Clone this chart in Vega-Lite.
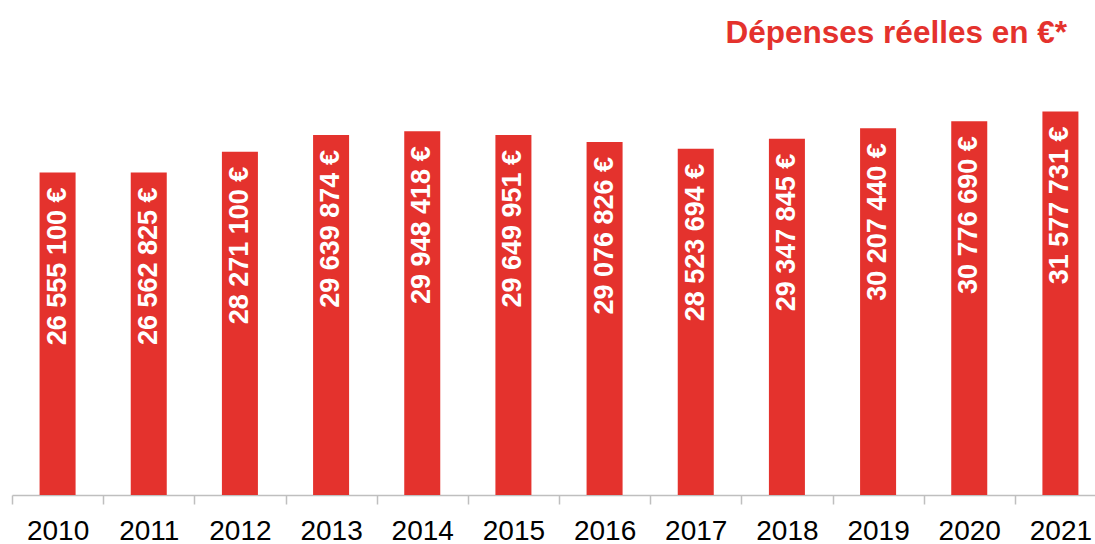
{
  "$schema": "https://vega.github.io/schema/vega-lite/v6.json",
  "autosize": {"type": "none"},
  "width": 1083,
  "height": 425,
  "padding": {"left": 12, "top": 70, "right": 0, "bottom": 49},
  "background": "white",
  "config": {
    "view": {"stroke": null},
    "font": "Liberation Sans",
    "locale": {"number": {"decimal": ",", "thousands": " ", "grouping": [3], "currency": ["", " €"]}}
  },
  "title": {
    "text": "Dépenses réelles en €*",
    "anchor": "end",
    "orient": "top",
    "baseline": "alphabetic",
    "offset": 29,
    "dy": 33,
    "dx": -39,
    "font": "Liberation Sans",
    "fontSize": 31.5,
    "fontWeight": "bold",
    "color": "#E4322D"
  },
  "data": {
    "values": [
      {"year": "2010", "value": 26555100},
      {"year": "2011", "value": 26562825},
      {"year": "2012", "value": 28271100},
      {"year": "2013", "value": 29639874},
      {"year": "2014", "value": 29948418},
      {"year": "2015", "value": 29649951},
      {"year": "2016", "value": 29076826},
      {"year": "2017", "value": 28523694},
      {"year": "2018", "value": 29347845},
      {"year": "2019", "value": 30207440},
      {"year": "2020", "value": 30776690},
      {"year": "2021", "value": 31577731}
    ]
  },
  "encoding": {
    "x": {
      "field": "year",
      "type": "nominal",
      "sort": null,
      "scale": {"range": [0, 1094], "paddingInner": 0.605, "paddingOuter": 0.3025},
      "axis": {
        "title": null,
        "labelAngle": 0,
        "labelFont": "Liberation Sans",
        "labelFontSize": 28,
        "labelColor": "#000000",
        "labelPadding": 13,
        "tickOffset": -45.58,
        "labelOffset": 45.58,
        "tickSize": 9,
        "tickColor": "#BFBFBF",
        "tickWidth": 1.5,
        "domainColor": "#BFBFBF",
        "domainWidth": 1.5,
        "grid": false
      }
    },
    "y": {
      "field": "value",
      "type": "quantitative",
      "scale": {"domain": [0, 35000000], "nice": false},
      "axis": null
    }
  },
  "layer": [
    {"mark": {"type": "bar", "color": "#E4322D"}},
    {
      "mark": {
        "type": "text",
        "angle": 270,
        "align": "right",
        "baseline": "middle",
        "dx": -15,
        "font": "Liberation Sans",
        "fontSize": 27,
        "fontWeight": "bold",
        "color": "white"
      },
      "encoding": {
        "text": {"field": "value", "type": "quantitative", "format": "$,d"}
      }
    }
  ]
}
